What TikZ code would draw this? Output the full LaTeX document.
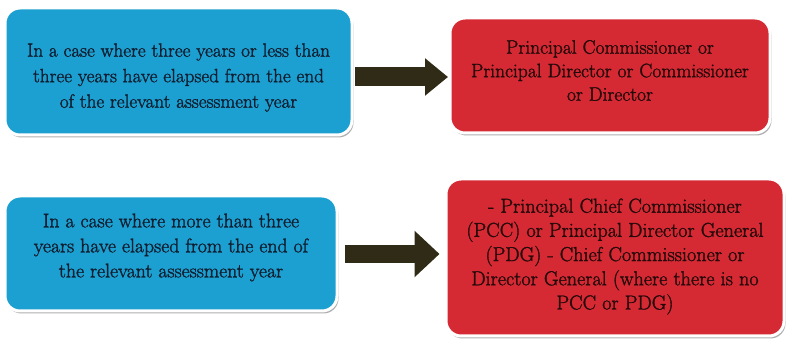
\documentclass[tikz,border=0pt]{standalone}
\usepackage{fontspec}
\usetikzlibrary{shadows,arrows.meta}
\newfontfamily\cardfont{Latin Modern Roman}[FakeBold=1.5]
\definecolor{caseblue}{HTML}{1CA0D1}
\definecolor{authred}{HTML}{D52A33}
\definecolor{arrowdark}{HTML}{2F2B16}
\definecolor{bluetext}{HTML}{0F1E30}
\definecolor{redtext}{HTML}{26090B}
\tikzset{
  x=1pt, y=1pt,
  card/.style={rounded corners=15pt, draw=white, line width=3pt, inner sep=0pt,
    drop shadow={shadow xshift=1.5pt, shadow yshift=-2.5pt, fill=black!45, opacity=0.7}},
  casebox/.style={card, fill=caseblue},
  authbox/.style={card, fill=authred},
  cardtext/.style={align=center, inner sep=0pt},
  casetext/.style={cardtext, text=bluetext},
  authtext/.style={cardtext, text=redtext},
  fatarrow/.style={draw=arrowdark, line width=#1}
}
\begin{document}
\begin{tikzpicture}
\useasboundingbox (0,0) rectangle (787,342);
% boxes
\node[casebox, minimum width=347pt, minimum height=127pt] (b1) at (178.5,270.5) {};
\node[authbox, minimum width=320pt, minimum height=115pt] (r1) at (610,266.5) {};
\node[casebox, minimum width=332pt, minimum height=115pt] (b2) at (171,88.5) {};
\node[authbox, minimum width=338pt, minimum height=157pt] (r2) at (615,84.5) {};
% texts
\node[casetext, font=\cardfont\fontsize{19.2}{25.5}\selectfont] (t1) at ([yshift=-6pt]b1.center)
  {In a case where three years or less than\\three years have elapsed from the end\\of the relevant assessment year};
\node[authtext, font=\cardfont\fontsize{19.5}{23.5}\selectfont] (t2) at ([yshift=5pt]r1.center)
  {Principal Commissioner or\\Principal Director or Commissioner\\or Director};
\node[casetext, font=\cardfont\fontsize{19.8}{25}\selectfont] (t3) at ([yshift=6pt]b2.center)
  {In a case where more than three\\years have elapsed from the end of\\the relevant assessment year};
\node[authtext, font=\cardfont\fontsize{20.2}{24.2}\selectfont] (t4) at ([yshift=1pt]r2.center)
  {- Principal Chief Commissioner\\(PCC) or Principal Director General\\(PDG) - Chief Commissioner or\\Director General (where there is no\\PCC or PDG)};
% arrows
\draw[fatarrow=19pt, -{Triangle[length=23pt, width=36pt]}]
  ([xshift=1.5pt]b1.east |- 0,265) -- ([xshift=-0.5pt]r1.west |- 0,265);
\draw[fatarrow=18pt, -{Triangle[length=25pt, width=45pt]}]
  ([xshift=6pt]b2.east |- 0,88) -- ([xshift=-5pt]r2.west |- 0,88);
\end{tikzpicture}
\end{document}
